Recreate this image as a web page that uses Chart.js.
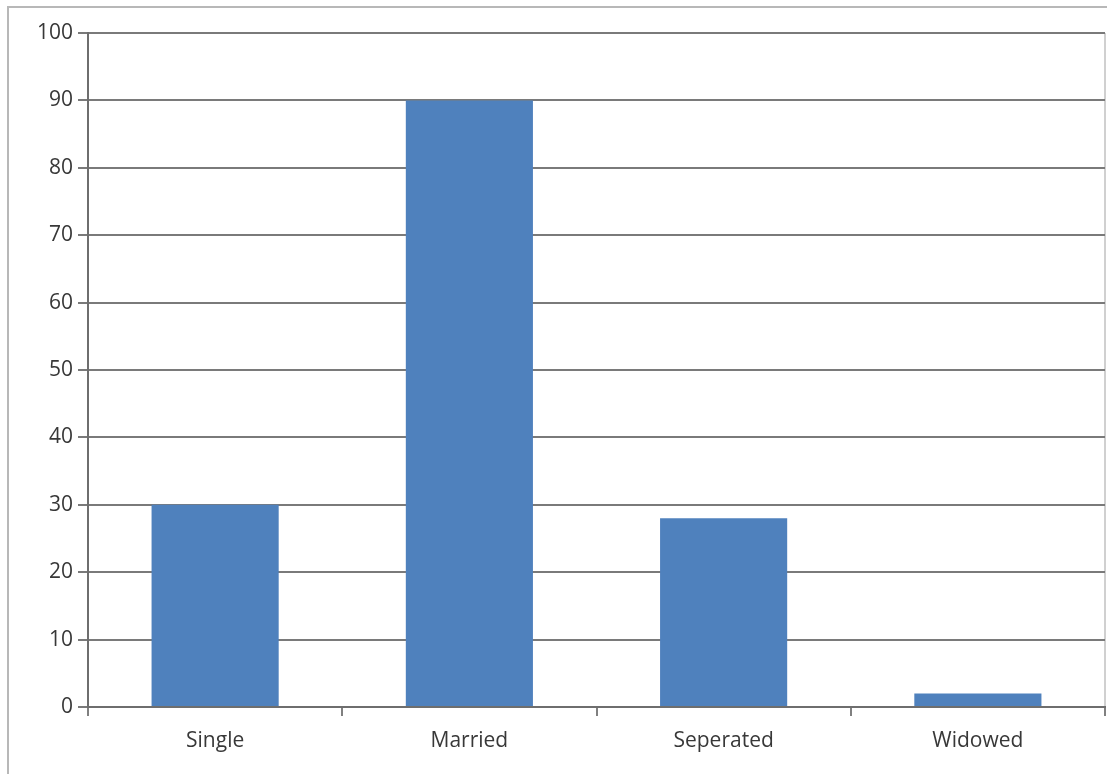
<!DOCTYPE html>
<html>
<head>
<meta charset="utf-8">
<script src="https://cdn.jsdelivr.net/npm/chart.js@4/dist/chart.umd.min.js"></script>
<style>
html,body{margin:0;padding:0;background:#fff;}
#wrap{position:relative;width:1107px;height:774px;}
canvas{display:block;}
</style>
</head>
<body>
<div id="wrap"><canvas id="c" width="1107" height="774"></canvas></div>
<script>
const categories = ["Single", "Married", "Seperated", "Widowed"];
const values = [30, 90, 28, 2];
const yMin = 0, yMax = 100, yStep = 10;

const framePlugin = {
  id: 'frame',
  beforeDraw(chart) {
    const ctx = chart.ctx;
    ctx.save();
    ctx.strokeStyle = '#b8b8b8';
    ctx.lineWidth = 2;
    ctx.beginPath();
    ctx.moveTo(8, 774);
    ctx.lineTo(8, 7);
    ctx.lineTo(1107, 7);
    ctx.stroke();
    const a = chart.chartArea;
    ctx.strokeStyle = '#d0d0d0';
    ctx.lineWidth = 2;
    ctx.beginPath();
    ctx.moveTo(a.right, a.top);
    ctx.lineTo(a.right, a.bottom);
    ctx.stroke();
    ctx.restore();
  }
};

const tickFont = { family: 'Open Sans, Noto Sans, sans-serif', size: 21 };

new Chart(document.getElementById('c'), {
  type: 'bar',
  data: {
    labels: categories,
    datasets: [{
      data: values,
      backgroundColor: '#4F81BD',
      borderWidth: 0,
      categoryPercentage: 1.0,
      barPercentage: 0.5
    }]
  },
  options: {
    responsive: false,
    animation: false,
    devicePixelRatio: 1,
    layout: { padding: { left: 0, right: 2, top: 33, bottom: 0 } },
    plugins: { legend: { display: false }, tooltip: { enabled: false } },
    scales: {
      x: {
        offset: true,
        grid: { display: true, offset: true, drawOnChartArea: false, drawTicks: true, tickLength: 9, color: '#808080', lineWidth: 2 },
        border: { display: true, color: '#6e6e6e', width: 2 },
        ticks: { color: '#383838', font: tickFont, padding: 12 },
        afterFit(scale) { scale.height = 67; }
      },
      y: {
        min: yMin, max: yMax,
        grid: { color: '#7a7a7a', lineWidth: 2, drawTicks: true, tickLength: 10 },
        border: { display: true, color: '#6e6e6e', width: 2 },
        ticks: { stepSize: yStep, color: '#383838', font: tickFont, padding: 5 },
        afterFit(scale) { scale.width = 88; }
      }
    }
  },
  plugins: [framePlugin]
});
</script>
</body>
</html>
